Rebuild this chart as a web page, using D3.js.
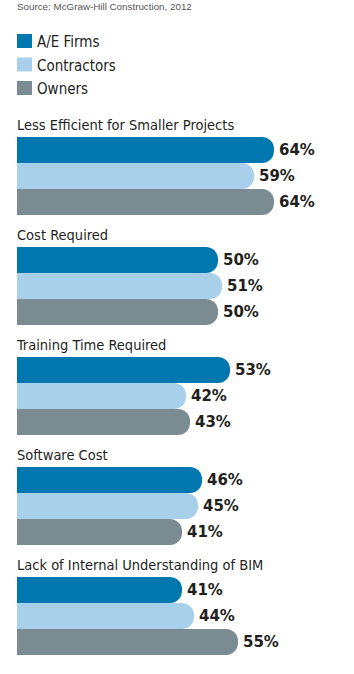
<!DOCTYPE html>
<html><head><meta charset="utf-8">
<script src="https://cdn.jsdelivr.net/npm/d3@7"></script>
<style>html,body{margin:0;padding:0;background:#fff;}svg{display:block;}</style>
</head><body>
<script>
const categories = ["Less Efficient for Smaller Projects","Cost Required","Training Time Required","Software Cost","Lack of Internal Understanding of BIM"];
const seriesNames = ["A/E Firms","Contractors","Owners"];
const aeFirms = [64,50,53,46,41];
const contractors = [59,51,42,45,44];
const owners = [64,50,43,41,55];
const sourceText = "Source: McGraw-Hill Construction, 2012";
const colors = ["#0077AF","#A8D0EA","#7A8B92"];

const W = 354, H = 674;
const svg = d3.select("body").append("svg").attr("width", W).attr("height", H);

const titleFont = "'DejaVu Sans Condensed','Liberation Sans Narrow','Arial Narrow',sans-serif";
const valueFont = "'DejaVu Sans',sans-serif";

svg.append("text").attr("x", 17).attr("y", 10).attr("font-family","'Liberation Sans',Arial,sans-serif")
  .attr("font-size", 9.8).attr("fill","#555").text(sourceText);

const legend = svg.append("g");
seriesNames.forEach((n,i)=>{
  const y = 34 + i*23.5;
  legend.append("rect").attr("x",17).attr("y",y).attr("width",15).attr("height",14).attr("fill",colors[i]);
  legend.append("text").attr("x",37).attr("y",y+13).attr("font-family",titleFont).attr("font-size",15)
    .attr("fill","#231f20").text(n);
});

const x = d3.scaleLinear().domain([0,100]).range([18,418]);
const groupY = d3.scaleBand().domain(categories).range([137, 137+110*5]).paddingInner(0).paddingOuter(0);
const inner = d3.scaleBand().domain(seriesNames).range([0,78]);

const data = categories.map((c,i)=>({cat:c, vals:[aeFirms[i],contractors[i],owners[i]]}));

function barPath(x0,x1,y,h,r){
  r = Math.min(r,h/2,x1-x0);
  return `M${x0},${y}H${x1-r}A${r},${r} 0 0 1 ${x1},${y+r}V${y+h-r}A${r},${r} 0 0 1 ${x1-r},${y+h}H${x0}Z`;
}

const g = svg.selectAll("g.grp").data(data).enter().append("g").attr("class","grp")
  .attr("transform", d=>`translate(0,${groupY(d.cat)})`);

g.append("text").attr("x",17).attr("y",-7).attr("font-family",titleFont).attr("font-size",14.5)
  .attr("fill","#231f20").text(d=>d.cat);

g.selectAll("path.bar").data(d=>d.vals.map((v,j)=>({v, s:seriesNames[j], j})))
  .enter().append("path").attr("class","bar")
  .attr("d", d=>barPath(x(0)-1, x(d.v), inner(d.s), inner.bandwidth(), 12))
  .attr("fill", d=>colors[d.j]);

g.selectAll("text.val").data(d=>d.vals.map((v,j)=>({v, s:seriesNames[j], j})))
  .enter().append("text").attr("class","val")
  .attr("x", d=>x(d.v)+5).attr("y", d=>inner(d.s)+inner.bandwidth()/2+5)
  .attr("font-family",valueFont).attr("font-weight","bold").attr("font-size",15)
  .attr("fill","#231f20").text(d=>d.v+"%");
</script>
</body></html>
